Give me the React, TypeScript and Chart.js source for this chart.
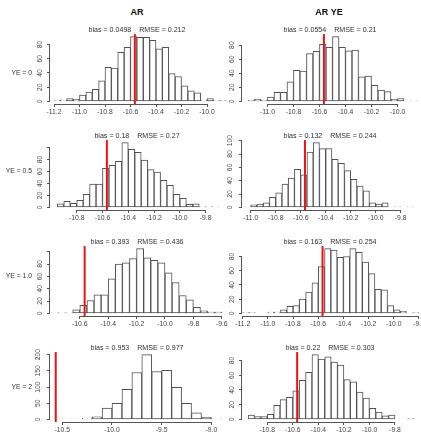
import React, { useEffect, useRef } from 'react';
import { Chart, registerables } from 'chart.js';
Chart.register(...registerables);

const FONT = '"Liberation Sans", Arial, Helvetica, sans-serif';

// ---- data ----
const colTitles = ['AR', 'AR YE'];
const rowLabels = ['YE = 0', 'YE = 0.5', 'YE = 1.0', 'YE = 2'];
const biasValues = ['0.0498', '0.0554', '0.18', '0.132', '0.393', '0.163', '0.953', '0.22'];
const rmseValues = ['0.212', '0.21', '0.27', '0.244', '0.436', '0.254', '0.977', '0.303'];
const trueValues = [-10.566, -10.566, -10.566, -10.566, -10.566, -10.566, -10.566, -10.566];

const binStarts = [-11.2, -11.15, -10.95, -11.05, -10.8, -11.2, -10.5, -10.95];
const binWidths = [0.05, 0.05, 0.05, 0.05, 0.05, 0.05, 0.1, 0.05];

const countsAR_YE0 = [1, 2, 4, 3, 9, 13, 17, 29, 48, 47, 69, 76, 91, 90, 90, 86, 74, 76, 39, 35, 22, 15, 12, 2, 4, 1, 1];
const countsARYE_YE0 = [2, 3, 2, 6, 13, 13, 28, 44, 43, 68, 71, 81, 77, 92, 77, 72, 73, 35, 36, 23, 16, 14, 3, 4, 0, 1];
const countsAR_YE05 = [6, 10, 7, 12, 22, 39, 39, 65, 70, 77, 108, 97, 92, 79, 63, 59, 45, 37, 22, 15, 5, 6, 1, 1, 1];
const countsARYE_YE05 = [1, 4, 5, 7, 15, 22, 35, 44, 57, 49, 83, 97, 88, 88, 72, 66, 55, 42, 32, 25, 7, 5, 7, 0, 1, 0, 1];
const countsAR_YE10 = [1, 1, 1, 6, 13, 21, 30, 30, 56, 80, 82, 89, 105, 90, 86, 82, 66, 50, 29, 22, 10, 4, 2, 2];
const countsARYE_YE10 = [1, 1, 0, 0, 2, 2, 5, 10, 11, 20, 30, 43, 66, 91, 89, 79, 80, 91, 86, 72, 56, 34, 33, 11, 5, 3, 0, 1];
const countsAR_YE2 = [2, 0, 3, 8, 35, 50, 93, 145, 200, 148, 152, 99, 50, 20, 7, 2];
const countsARYE_YE2 = [6, 4, 4, 7, 19, 27, 30, 39, 53, 64, 88, 82, 85, 78, 74, 54, 51, 37, 29, 15, 10, 5, 6, 0, 0, 1];

const allCounts = [
  countsAR_YE0, countsARYE_YE0, countsAR_YE05, countsARYE_YE05,
  countsAR_YE10, countsARYE_YE10, countsAR_YE2, countsARYE_YE2,
];

const xLimits = [
  [-11.2314, -9.8353], [-11.196, -9.827],
  [-11.007, -9.627], [-11.0696, -9.6456],
  [-10.81, -9.556], [-11.2056, -9.792],
  [-10.6237, -8.833], [-10.998, -9.604],
];

const xTicks = [
  [-11.2, -11.0, -10.8, -10.6, -10.4, -10.2, -10.0],
  [-11.0, -10.8, -10.6, -10.4, -10.2, -10.0],
  [-10.8, -10.6, -10.4, -10.2, -10.0, -9.8],
  [-11.0, -10.8, -10.6, -10.4, -10.2, -10.0, -9.8],
  [-10.6, -10.4, -10.2, -10.0, -9.8, -9.6],
  [-11.2, -11.0, -10.8, -10.6, -10.4, -10.2, -10.0, -9.8],
  [-10.5, -10.0, -9.5, -9.0],
  [-10.8, -10.6, -10.4, -10.2, -10.0, -9.8],
];
const xTickLabels = [
  ['-11.2', '-11.0', '-10.8', '-10.6', '-10.4', '-10.2', '-10.0'],
  ['-11.0', '-10.8', '-10.6', '-10.4', '-10.2', '-10.0'],
  ['-10.8', '-10.6', '-10.4', '-10.2', '-10.0', '-9.8'],
  ['-11.0', '-10.8', '-10.6', '-10.4', '-10.2', '-10.0', '-9.8'],
  ['-10.6', '-10.4', '-10.2', '-10.0', '-9.8', '-9.6'],
  ['-11.2', '-11.0', '-10.8', '-10.6', '-10.4', '-10.2', '-10.0', '-9.8'],
  ['-10.5', '-10.0', '-9.5', '-9.0'],
  ['-10.8', '-10.6', '-10.4', '-10.2', '-10.0', '-9.8'],
];

const yTicks = [
  [0, 20, 40, 60, 80], [0, 20, 40, 60, 80],
  [0, 20, 40, 60, 80, 100], [0, 20, 40, 60, 80, 100],
  [0, 20, 40, 60, 80, 100], [0, 20, 40, 60, 80],
  [0, 50, 100, 150, 200], [0, 20, 40, 60, 80],
];
const yTickLabels = [
  ['0', '20', '40', '60', '80'], ['0', '20', '40', '60', '80'],
  ['0', '20', '40', '60', '80', ''], ['0', '20', '40', '60', '80', '100'],
  ['0', '20', '40', '60', '80', ''], ['0', '20', '40', '60', '80'],
  ['0', '50', '100', '150', '200'], ['0', '20', '40', '60', '80'],
];

// ---- layout ----
const ROW_TOPS = [33, 139, 245, 351];
const PLOT_H = 71;
const COL_LEFTS = [50, 242];
const PLOT_W = 178;
const ROW_LABEL_Y = [72.7, 171, 275.7, 386.7];
const TITLE_X = [137, 329];
const SUB_X = [137, 330];

const rAxesPlugin = {
  id: 'rAxes',
  afterDraw(chart: any) {
    const { ctx, chartArea, scales } = chart;
    const xs = scales.x;
    const ys = scales.y;
    ctx.save();
    ctx.strokeStyle = '#555';
    ctx.lineWidth = 1;
    ctx.beginPath();
    const xt = xs.ticks;
    const yb = Math.round(chartArea.bottom) + 0.5;
    ctx.moveTo(xs.getPixelForValue(xt[0].value), yb);
    ctx.lineTo(xs.getPixelForValue(xt[xt.length - 1].value), yb);
    const yt = ys.ticks;
    const xl = Math.round(chartArea.left) - 0.5;
    ctx.moveTo(xl, ys.getPixelForValue(yt[0].value));
    ctx.lineTo(xl, ys.getPixelForValue(yt[yt.length - 1].value));
    ctx.stroke();
    ctx.restore();
  },
};

function Panel({ idx }: { idx: number }) {
  const ref = useRef<HTMLCanvasElement>(null);
  const row = Math.floor(idx / 2);
  const col = idx % 2;
  const padTop = 6;
  const yAxisW = 22;
  const xAxisH = 16;
  const padRight = 12;
  const padBottom = 2;
  const cw = yAxisW + PLOT_W + padRight;
  const ch = padTop + PLOT_H + xAxisH + padBottom;
  const left = COL_LEFTS[col] - yAxisW;
  const top = ROW_TOPS[row] - padTop;

  useEffect(() => {
    const counts = allCounts[idx];
    const start = binStarts[idx];
    const w = binWidths[idx];
    const maxC = Math.max(...counts);
    const yMin = -0.04 * maxC;
    const yMax = 1.04 * maxC;
    const bars = counts.map((c, i) => ({ x: start + (i + 0.5) * w, y: c }));
    const tv = trueValues[idx];
    const tickFont = { family: FONT, size: 6.8 };
    const chart = new Chart(ref.current as HTMLCanvasElement, {
      type: 'bar',
      data: {
        datasets: [
          {
            type: 'line',
            data: [{ x: tv, y: yMin }, { x: tv, y: yMax }],
            borderColor: '#ee1111',
            borderWidth: 2,
            pointRadius: 0,
            order: 0,
          } as any,
          {
            type: 'bar',
            data: bars,
            backgroundColor: '#ffffff',
            borderColor: '#505050',
            borderWidth: 1,
            borderSkipped: false,
            barPercentage: 1,
            categoryPercentage: 1,
            order: 1,
          } as any,
        ],
      },
      options: {
        animation: false,
        responsive: false,
        events: [],
        layout: { padding: { top: padTop, left: 0, right: padRight, bottom: padBottom } },
        plugins: { legend: { display: false }, tooltip: { enabled: false }, title: { display: false } },
        scales: {
          x: {
            type: 'linear',
            min: xLimits[idx][0],
            max: xLimits[idx][1],
            offset: false,
            afterBuildTicks: (s: any) => { s.ticks = xTicks[idx].map((v) => ({ value: v })); },
            afterFit: (s: any) => { s.height = xAxisH; },
            grid: { display: true, drawOnChartArea: false, drawTicks: true, tickLength: 3, color: '#555', offset: false },
            border: { display: false },
            ticks: {
              autoSkip: false, maxRotation: 0, minRotation: 0, padding: 1, color: '#444', font: tickFont,
              callback: (_v: any, i: number) => xTickLabels[idx][i],
            },
          },
          y: {
            type: 'linear',
            min: yMin,
            max: yMax,
            afterBuildTicks: (s: any) => { s.ticks = yTicks[idx].map((v) => ({ value: v })); },
            afterFit: (s: any) => { s.width = yAxisW; },
            grid: { display: true, drawOnChartArea: false, drawTicks: true, tickLength: 3, color: '#555' },
            border: { display: false },
            ticks: {
              autoSkip: false, minRotation: 90, maxRotation: 90, crossAlign: 'center', padding: 3,
              color: '#444', font: tickFont,
              callback: (_v: any, i: number) => yTickLabels[idx][i],
            },
          },
        },
      } as any,
      plugins: [rAxesPlugin],
    });
    return () => chart.destroy();
  }, [idx]);

  return (
    <canvas
      ref={ref}
      width={cw}
      height={ch}
      style={{ position: 'absolute', left, top, width: cw, height: ch }}
    />
  );
}

function Txt({ x, y, text, size, bold, align }: { x: number; y: number; text: string; size: number; bold?: boolean; align: 'center' | 'right' }) {
  const h = Math.round(size * 1.4);
  const style: React.CSSProperties = {
    position: 'absolute',
    top: y - h / 2,
    height: h,
    lineHeight: h + 'px',
    fontSize: size,
    fontWeight: bold ? 'bold' : 'normal',
    whiteSpace: 'pre',
    color: bold ? '#111' : '#333',
    textAlign: align,
    left: align === 'center' ? x - 100 : x - 100,
    width: align === 'center' ? 200 : 100,
  };
  return <div style={style}>{text}</div>;
}

export default function App() {
  const panels = [0, 1, 2, 3, 4, 5, 6, 7];
  return (
    <div
      style={{
        position: 'fixed', left: 0, top: 0, width: 421, height: 435,
        background: '#fff', overflow: 'hidden', fontFamily: FONT,
      }}
    >
      {panels.map((i) => <Panel key={i} idx={i} />)}
      {colTitles.map((t, c) => (
        <Txt key={'t' + c} x={TITLE_X[c]} y={12} text={t} size={9} bold align="center" />
      ))}
      {rowLabels.map((t, r) => (
        <Txt key={'r' + r} x={32} y={ROW_LABEL_Y[r]} text={t} size={6.8} align="right" />
      ))}
      {panels.map((i) => (
        <Txt
          key={'s' + i}
          x={SUB_X[i % 2]}
          y={ROW_TOPS[Math.floor(i / 2)] - 3.5}
          text={`bias = ${biasValues[i]}    RMSE = ${rmseValues[i]}`}
          size={7.1}
          align="center"
        />
      ))}
    </div>
  );
}
